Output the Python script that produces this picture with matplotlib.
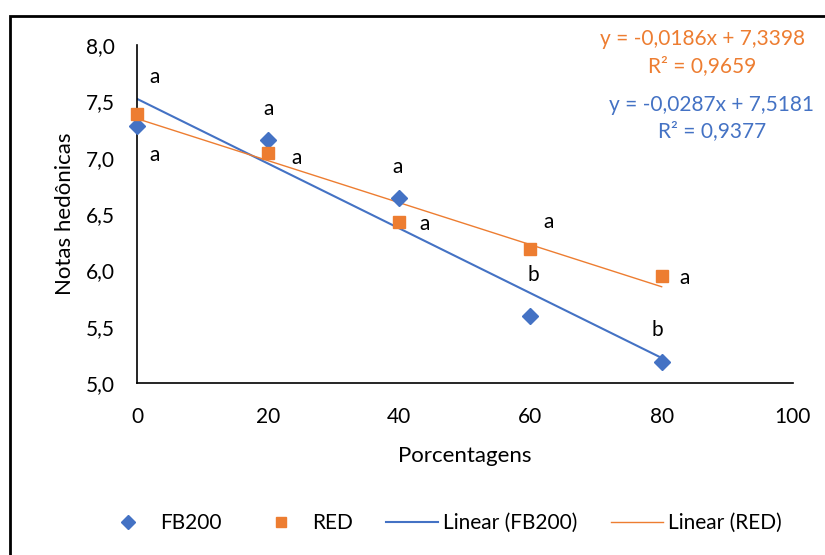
import numpy as np
import matplotlib.pyplot as plt
from matplotlib.patches import Rectangle
from matplotlib.ticker import FuncFormatter

plt.rcParams['font.family'] = ['Lato', 'DejaVu Sans']

x = [0, 20, 40, 60, 80]
fb200 = [7.28, 7.16, 6.64, 5.59, 5.19]
red = [7.39, 7.04, 6.43, 6.19, 5.95]

# significance letters (x, y, text)
letters_x = [2.7, 2.7, 20, 24.3, 39.8, 43.9, 62.7, 60.4, 79.4, 83.5]
letters_y = [7.72, 7.02, 7.43, 7.0, 6.92, 6.41, 6.43, 5.96, 5.47, 5.93]
letters = ['a', 'a', 'a', 'a', 'a', 'a', 'a', 'b', 'b', 'a']

eq_red = "y = -0,0186x + 7,3398\nR² = 0,9659"
eq_fb = "y = -0,0287x + 7,5181\nR² = 0,9377"

blue = '#4472C4'
orange = '#ED7D31'

fig = plt.figure(figsize=(8.25, 5.55), dpi=100)
ax = fig.add_axes([0.166, 0.310, 0.795, 0.609])

ax.plot(x, fb200, ls='none', marker='D', ms=8.5, color=blue, label='FB200',
        zorder=3, clip_on=False)
ax.plot(x, red, ls='none', marker='s', ms=9, color=orange, label='RED',
        zorder=3, clip_on=False)

xx = np.array([0, 80])
p1 = np.polyfit(x, fb200, 1)
p2 = np.polyfit(x, red, 1)
ax.plot(xx, np.polyval(p1, xx), color=blue, lw=1.5, label='Linear (FB200)')
ax.plot(xx, np.polyval(p2, xx), color=orange, lw=1.0, label='Linear (RED)')

for lx, ly, t in zip(letters_x, letters_y, letters):
    ax.text(lx, ly, t, fontsize=15, ha='center', va='center')

ax.set_xlim(0, 100)
ax.set_ylim(5.0, 8.0)
ax.set_xticks([0, 20, 40, 60, 80, 100])
ax.set_yticks([5.0, 5.5, 6.0, 6.5, 7.0, 7.5, 8.0])
ax.yaxis.set_major_formatter(FuncFormatter(lambda v, p: f"{v:.1f}".replace('.', ',')))
ax.tick_params(length=0, labelsize=15)
ax.tick_params(axis='x', pad=17)
ax.tick_params(axis='y', pad=16)
for s in ['top', 'right']:
    ax.spines[s].set_visible(False)
for s in ['left', 'bottom']:
    ax.spines[s].set_linewidth(1.2)
ax.set_xlabel('Porcentagens', fontsize=16, labelpad=14)
ax.set_ylabel('Notas hedônicas', fontsize=16, labelpad=8)

fig.text(0.851, 0.906, eq_red, color=orange, fontsize=15, ha='center', va='center',
         linespacing=1.45)
fig.text(0.863, 0.787, eq_fb, color=blue, fontsize=15, ha='center', va='center',
         linespacing=1.4)

fig.legend(loc='center', bbox_to_anchor=(0.536, 0.058), ncol=4, frameon=False,
           fontsize=15, handlelength=2.5, handletextpad=0.25, columnspacing=1.6,
           numpoints=1, markerscale=0.85)

fig.patches.append(Rectangle((0.012, -0.05), 1.1, 1.021, transform=fig.transFigure,
                             fill=False, edgecolor='black', lw=2, clip_on=False))

fig.savefig('out.png', dpi=100)
